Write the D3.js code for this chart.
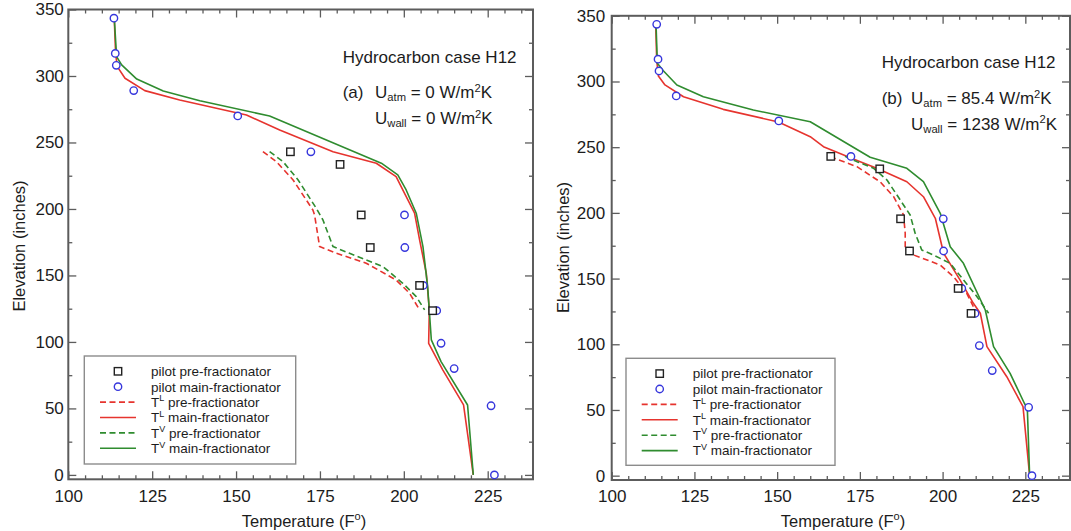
<!DOCTYPE html>
<html>
<head>
<meta charset="utf-8">
<script src="https://cdn.jsdelivr.net/npm/d3@7"></script>
<style>
  html, body { margin: 0; padding: 0; background: #fff; }
  svg { display: block; font-family: "Liberation Sans", Arial, Helvetica, sans-serif; }
</style>
</head>
<body>
<svg id="chart" width="1071" height="531"></svg>
<script>
// ---- Axis ticks ----
const tempMajor = [100, 125, 150, 175, 200, 225];
const tempMinor = d3.range(105, 240, 5).filter(v => v % 25 !== 0);
const elevMajor = [0, 50, 100, 150, 200, 250, 300, 350];
const elevMinor = [25, 75, 125, 175, 225, 275, 325];

// ---- Pilot plant measurements [temperature F, elevation in] ----
const pilotPre = [[166.2, 243], [181, 233.5], [187.3, 195.5], [190, 171], [204.7, 142.5], [208.6, 123.5]];
const pilotMain = [[113.6, 343.5], [114, 317], [114.3, 308], [119.5, 289], [150.5, 270], [172.3, 243],
  [200.2, 195.5], [200.3, 171], [205.8, 142.5], [209.8, 123.5], [211.1, 99], [215, 80], [226, 52], [227, 0]];

// ---- Case (a): adiabatic column profiles ----
const aLiqPre = [[158, 243.1], [162, 235.6], [167, 221.8], [172.9, 199.2], [173.4, 195.5], [174.9, 171.7],
  [179.9, 166.7], [188.8, 159.2], [197.7, 146.6], [201.7, 136.6], [204.7, 124.1]];
const aLiqMain = [[113.7, 343], [114.1, 317], [114.6, 307], [116.9, 298.3], [122.8, 289], [133.2, 282],
  [153.1, 270.7], [163, 259.4], [178.9, 243.1], [191.8, 234.4], [197.7, 224.3], [203.2, 196.8],
  [204.7, 176.7], [206.7, 151.6], [207.6, 124], [207.4, 99], [211.6, 79], [217.8, 52.6], [220.7, 0]];
const aVapPre = [[160, 243.1], [164, 235.6], [168.5, 221.8], [173.9, 200.5], [175.9, 191.7], [178.9, 171.7],
  [183.8, 166.7], [193.8, 156.6], [199.7, 144.1], [203.7, 134.1], [206.2, 124.1]];
const aVapMain = [[113.7, 343.6], [114.4, 314.5], [115.9, 308.3], [120.4, 297.7], [128.3, 288.7], [139.2, 281.4],
  [160, 269.9], [193.3, 234.4], [198.2, 225.6], [200.7, 214.3], [203.7, 196.8], [205.7, 171.7],
  [207.1, 141.6], [208.2, 101.5], [211.1, 85.2], [219, 52.6], [220.7, 0]];

// ---- Case (b): column with heat losses ----
const bLiqPre = [[166, 242.8], [174.1, 235.2], [181.1, 223.7], [185.2, 212.3], [188.2, 198.4], [188.7, 184.5],
  [188.7, 171.8], [191.2, 168], [199.3, 160.3], [203.3, 151.4], [207.3, 138.8], [209.3, 128.6]];
const bLiqMain = [[113.3, 343], [113.6, 316.4], [114.1, 304.2], [116.1, 297.4], [121.7, 288.4], [133.7, 278.8],
  [150.4, 269.2], [160, 258], [164, 250.4], [175.1, 239], [180.1, 233.9], [189.2, 223.7], [194.2, 212.3],
  [197.8, 195.9], [200.3, 169.3], [205.3, 148.8], [209.3, 131.2], [211.4, 123.6], [213.4, 98.2],
  [219.4, 75.3], [224.3, 52.5], [226.3, 0]];
const bVapPre = [[170.5, 243], [174.1, 239], [179.1, 234], [183.2, 225], [187.2, 209.8], [190.2, 198.4],
  [191.7, 184.5], [193.7, 171.8], [197.2, 168], [202.3, 161.6], [206.3, 149], [210.4, 136.2], [213.9, 123.6]];
const bVapMain = [[113.4, 343.4], [113.8, 313.8], [115.6, 308.2], [119.7, 297.3], [127.7, 288.4], [142.8, 278.3],
  [160, 269.4], [178.1, 242.3], [189.2, 233.9], [194.2, 223.7], [199.3, 199.7], [202.3, 174.3],
  [206.3, 161.6], [212.9, 126.1], [215.4, 98.2], [220.4, 77.9], [224.7, 55.1], [225.6, 51.5], [226.3, 0]];

// ---- Labels ----
const caseLabel = "Hydrocarbon case H12";
const panelTags = ["(a)", "(b)"];
const uAtmValues = ["0", "85.4"];
const uWallValues = ["0", "1238"];
const legendNames = ["pilot pre-fractionator", "pilot main-fractionator", "pre-fractionator",
  "main-fractionator", "pre-fractionator", "main-fractionator"];

const RED = "#e6342e", GREEN = "#2f8c2f", BLUE = "#3636dc", AXIS = "#5c5c5c", INK = "#1c1c1c";

const panels = [
  { x0: 68.3, x1: 533, yTop: 9.5, yBot: 479.3, xPad: 10.5, yPad: 4.5,
    yTitleX: 25, yTitleY: 246, xTitleX: 304, xTitleY: 526.5,
    noteX: 342.7, uX: 375, noteY: [62.5, 98, 124],
    legend: { x: 84.3, y: 356, w: 211.4, h: 108 },
    series: [aLiqPre, aLiqMain, aVapPre, aVapMain] },
  { x0: 611.7, x1: 1070, yTop: 15.8, yBot: 480, xPad: 9.5, yPad: 6.5,
    yTitleX: 569.3, yTitleY: 247.5, xTitleX: 843, xTitleY: 526.5,
    noteX: 881.7, uX: 911, noteY: [68, 104, 129.5],
    legend: { x: 626, y: 358.3, w: 209, h: 107 },
    series: [bLiqPre, bLiqMain, bVapPre, bVapMain] }
];

const svg = d3.select("#chart");
const seriesStyle = [
  { color: RED, dash: "6,3.5", sup: "L" },
  { color: RED, dash: null, sup: "L" },
  { color: GREEN, dash: "6,3.5", sup: "V" },
  { color: GREEN, dash: null, sup: "V" }
];

function styleAxis(sel, fontSize) {
  sel.select(".domain").remove();
  sel.selectAll(".tick line").attr("stroke", AXIS).attr("stroke-width", 1.3);
  sel.selectAll(".tick text").attr("fill", INK).attr("font-size", fontSize)
    .attr("font-family", "Liberation Sans, Arial, sans-serif");
}

function superText(sel, x, y, size, parts) {
  // parts: [{t, kind}] where kind is "n", "sub" or "sup"
  const t = sel.append("text").attr("x", x).attr("y", y).attr("fill", INK).attr("font-size", size);
  let shift = 0;
  parts.forEach(p => {
    const target = p.kind === "sub" ? size * 0.2 : p.kind === "sup" ? -size * 0.36 : 0;
    t.append("tspan").attr("dy", target - shift)
      .attr("font-size", p.kind === "n" ? size : size * 0.66).text(p.t);
    shift = target;
  });
  return t;
}

panels.forEach((p, i) => {
  const x = d3.scaleLinear().domain([100, 238.5]).range([p.x0, p.x1]);
  const y = d3.scaleLinear().domain([-3.3, 350]).range([p.yBot, p.yTop]);
  const g = svg.append("g");

  // Axes with inward ticks on all four sides
  g.append("g").attr("transform", `translate(0,${p.yBot})`)
    .call(d3.axisBottom(x).tickValues(tempMajor).tickSize(-8).tickPadding(p.xPad)).call(s => styleAxis(s, 17));
  g.append("g").attr("transform", `translate(0,${p.yBot})`)
    .call(d3.axisBottom(x).tickValues(tempMinor).tickSize(-4).tickFormat("")).call(s => styleAxis(s, 17));
  g.append("g").attr("transform", `translate(0,${p.yTop})`)
    .call(d3.axisTop(x).tickValues(tempMajor).tickSize(-8).tickFormat("")).call(s => styleAxis(s, 17));
  g.append("g").attr("transform", `translate(0,${p.yTop})`)
    .call(d3.axisTop(x).tickValues(tempMinor).tickSize(-4).tickFormat("")).call(s => styleAxis(s, 17));
  g.append("g").attr("transform", `translate(${p.x0},0)`)
    .call(d3.axisLeft(y).tickValues(elevMajor).tickSize(-8).tickPadding(p.yPad)).call(s => styleAxis(s, 17));
  g.append("g").attr("transform", `translate(${p.x0},0)`)
    .call(d3.axisLeft(y).tickValues(elevMinor).tickSize(-4).tickFormat("")).call(s => styleAxis(s, 17));
  g.append("g").attr("transform", `translate(${p.x1},0)`)
    .call(d3.axisRight(y).tickValues(elevMajor).tickSize(-8).tickFormat("")).call(s => styleAxis(s, 17));
  g.append("g").attr("transform", `translate(${p.x1},0)`)
    .call(d3.axisRight(y).tickValues(elevMinor).tickSize(-4).tickFormat("")).call(s => styleAxis(s, 17));

  // Plot frame
  g.append("rect").attr("x", p.x0).attr("y", p.yTop)
    .attr("width", p.x1 - p.x0).attr("height", p.yBot - p.yTop)
    .attr("fill", "none").attr("stroke", AXIS).attr("stroke-width", 2);

  // Axis titles
  const xt = g.append("text").attr("x", p.xTitleX).attr("y", p.xTitleY)
    .attr("text-anchor", "middle").attr("font-size", 16.5).attr("fill", INK);
  xt.append("tspan").text("Temperature (F");
  xt.append("tspan").attr("font-size", 11).attr("dy", -7).text("o");
  xt.append("tspan").attr("dy", 7).text(")");
  g.append("text").attr("transform", `translate(${p.yTitleX},${p.yTitleY}) rotate(-90)`)
    .attr("text-anchor", "middle").attr("font-size", 16.5).attr("fill", INK)
    .text("Elevation (inches)");

  // Simulated temperature profiles
  const line = d3.line().x(d => x(d[0])).y(d => y(d[1]));
  p.series.forEach((s, k) => {
    const st = seriesStyle[k];
    g.append("path").datum(s).attr("d", line).attr("fill", "none")
      .attr("stroke", st.color).attr("stroke-width", 1.6)
      .attr("stroke-dasharray", st.dash).attr("stroke-linejoin", "round");
  });

  // Pilot plant data
  g.append("g").selectAll("circle").data(pilotMain).join("circle")
    .attr("cx", d => x(d[0])).attr("cy", d => y(d[1])).attr("r", 3.7)
    .attr("fill", "#fff").attr("stroke", BLUE).attr("stroke-width", 1.4);
  g.append("g").selectAll("rect").data(pilotPre).join("rect")
    .attr("x", d => x(d[0]) - 3.7).attr("y", d => y(d[1]) - 3.7)
    .attr("width", 7.4).attr("height", 7.4)
    .attr("fill", "#fff").attr("stroke", "#222").attr("stroke-width", 1.4);

  // Case annotation
  g.append("text").attr("x", p.noteX).attr("y", p.noteY[0]).attr("font-size", 17)
    .attr("fill", INK).text(caseLabel);
  g.append("text").attr("x", p.noteX).attr("y", p.noteY[1]).attr("font-size", 17)
    .attr("fill", INK).text(panelTags[i]);
  superText(g, p.uX, p.noteY[1], 17, [
    { t: "U", kind: "n" }, { t: "atm", kind: "sub" }, { t: " = " + uAtmValues[i] + " W/m", kind: "n" },
    { t: "2", kind: "sup" }, { t: "K", kind: "n" }]);
  superText(g, p.uX, p.noteY[2], 17, [
    { t: "U", kind: "n" }, { t: "wall", kind: "sub" }, { t: " = " + uWallValues[i] + " W/m", kind: "n" },
    { t: "2", kind: "sup" }, { t: "K", kind: "n" }]);

  // Legend
  const L = p.legend;
  const lg = g.append("g").attr("transform", `translate(${L.x},${L.y})`);
  lg.append("rect").attr("width", L.w).attr("height", L.h)
    .attr("fill", "#fff").attr("stroke", "#8c8c8c").attr("stroke-width", 1.4);
  const rowY = k => 15.3 + k * 15.4;
  lg.append("rect").attr("x", 33.7 - 3.7).attr("y", rowY(0) - 3.7).attr("width", 7.4).attr("height", 7.4)
    .attr("fill", "#fff").attr("stroke", "#222").attr("stroke-width", 1.4);
  lg.append("circle").attr("cx", 33.7).attr("cy", rowY(1)).attr("r", 3.7)
    .attr("fill", "#fff").attr("stroke", BLUE).attr("stroke-width", 1.4);
  seriesStyle.forEach((st, k) => {
    lg.append("line").attr("x1", 15.7).attr("x2", 51.7).attr("y1", rowY(k + 2)).attr("y2", rowY(k + 2))
      .attr("stroke", st.color).attr("stroke-width", 1.6).attr("stroke-dasharray", st.dash);
  });
  legendNames.forEach((name, k) => {
    const t = lg.append("text").attr("x", 66.7).attr("y", rowY(k) + 4.8)
      .attr("font-size", 13.5).attr("fill", INK);
    if (k < 2) {
      t.text(name);
    } else {
      t.append("tspan").text("T");
      t.append("tspan").attr("font-size", 9).attr("dy", -5.5).text(seriesStyle[k - 2].sup);
      t.append("tspan").attr("dy", 5.5).text(" " + name);
    }
  });
});
</script>
</body>
</html>
